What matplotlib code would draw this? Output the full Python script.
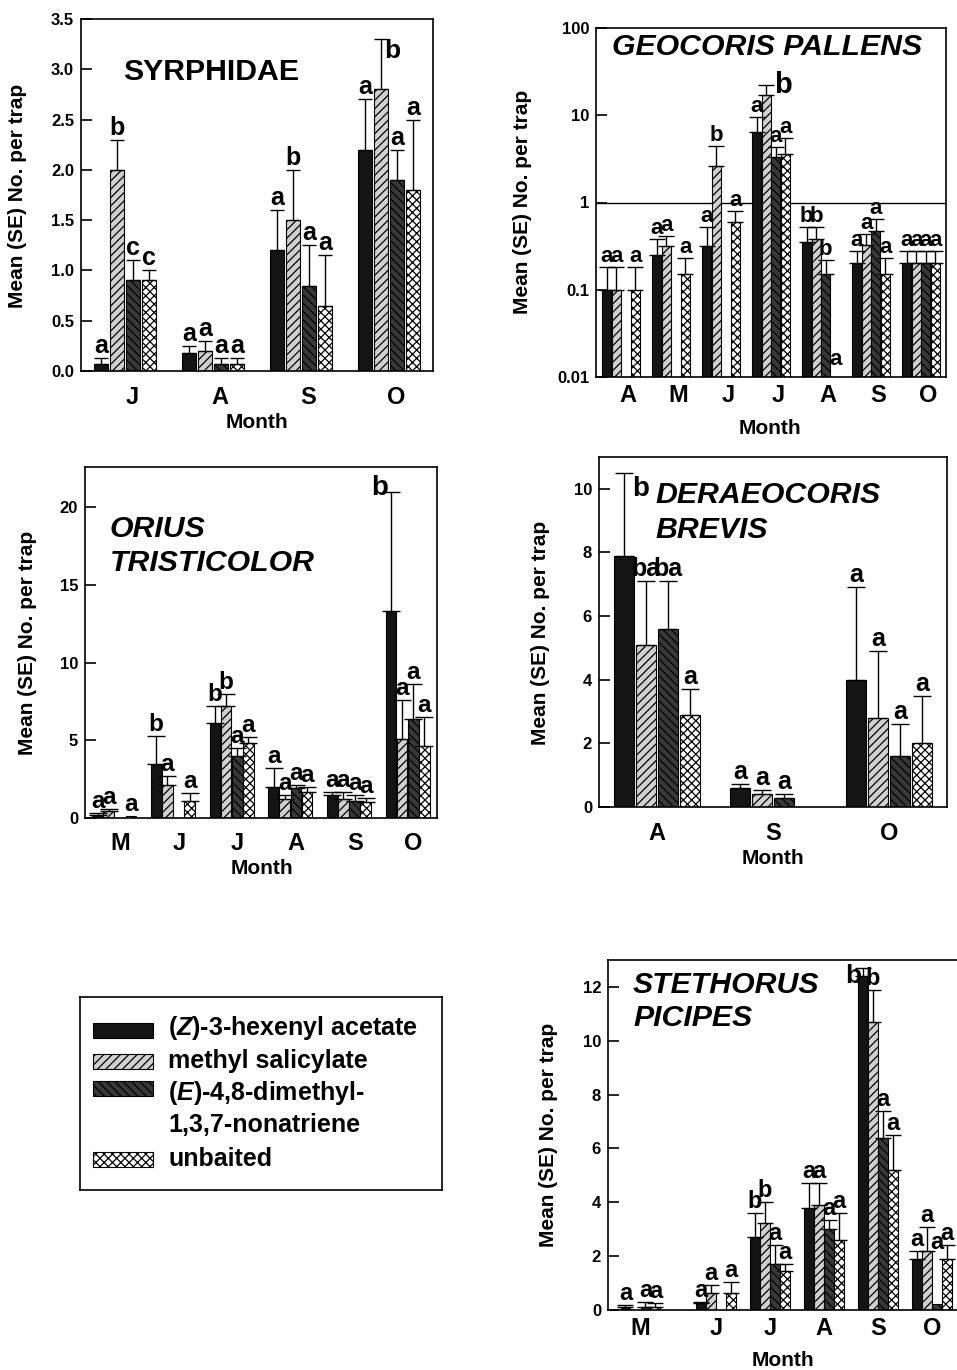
import numpy as np
import matplotlib.pyplot as plt
from matplotlib.patches import Rectangle
from matplotlib.ticker import NullLocator

plt.rcParams['font.family'] = 'Liberation Sans'
plt.rcParams['font.weight'] = 'bold'
plt.rcParams['mathtext.fontset'] = 'custom'
plt.rcParams['mathtext.rm'] = 'Liberation Sans:bold'
plt.rcParams['mathtext.it'] = 'Liberation Sans:italic:bold'
plt.rcParams['hatch.linewidth'] = 0.9
plt.rcParams['axes.linewidth'] = 1.2

W, H = 957, 1370

# --------- data (mean, SE) per treatment ---------
treatments = ["($\\mathit{Z}$)-3-hexenyl acetate", "methyl salicylate",
              "($\\mathit{E}$)-4,8-dimethyl-\n1,3,7-nonatriene", "unbaited"]

# Syrphidae
syr_months = ["J", "A", "S", "O"]
syr_zha = [0.07, 0.18, 1.2, 2.2]
syr_zha_se = [0.06, 0.07, 0.4, 0.5]
syr_mesa = [2.0, 0.2, 1.5, 2.8]
syr_mesa_se = [0.3, 0.1, 0.5, 0.5]
syr_dmnt = [0.9, 0.07, 0.85, 1.9]
syr_dmnt_se = [0.2, 0.06, 0.4, 0.3]
syr_unb = [0.9, 0.07, 0.65, 1.8]
syr_unb_se = [0.1, 0.06, 0.5, 0.7]
syr_letters = [["a", "b", "c", "c"], ["a", "a", "a", "a"],
               ["a", "b", "a", "a"], ["a", "b", "a", "a"]]

# Geocoris pallens (log scale)
geo_months = ["A", "M", "J", "J", "A", "S", "O"]
geo_zha = [0.1, 0.25, 0.32, 6.5, 0.35, 0.2, 0.2]
geo_zha_se = [0.08, 0.13, 0.2, 3.0, 0.17, 0.08, 0.08]
geo_mesa = [0.1, 0.32, 2.6, 17.0, 0.38, 0.33, 0.2]
geo_mesa_se = [0.08, 0.09, 1.8, 5.5, 0.14, 0.1, 0.08]
geo_dmnt = [0, 0, 0, 3.3, 0.15, 0.47, 0.2]
geo_dmnt_se = [0, 0, 0, 1.0, 0.07, 0.18, 0.08]
geo_unb = [0.1, 0.15, 0.6, 3.6, 0, 0.15, 0.2]
geo_unb_se = [0.08, 0.08, 0.2, 1.9, 0, 0.08, 0.08]
geo_letters = [["a", "a", "", "a"], ["a", "a", "", "a"], ["a", "b", "", "a"],
               ["a", "b", "a", "a"], ["b", "b", "b", "a"], ["a", "a", "a", "a"],
               ["a", "a", "a", "a"]]

# Orius tristicolor
ori_months = ["M", "J", "J", "A", "S", "O"]
ori_zha = [0.2, 3.5, 6.1, 2.0, 1.5, 13.3]
ori_zha_se = [0.1, 1.8, 1.1, 1.2, 0.2, 7.7]
ori_mesa = [0.45, 2.1, 7.2, 1.2, 1.2, 5.1]
ori_mesa_se = [0.15, 0.6, 0.8, 0.3, 0.5, 2.5]
ori_dmnt = [0, 0, 4.0, 1.9, 1.1, 6.4]
ori_dmnt_se = [0, 0, 0.5, 0.2, 0.4, 2.2]
ori_unb = [0.1, 1.1, 4.8, 1.65, 1.0, 4.65]
ori_unb_se = [0, 0.5, 0.4, 0.35, 0.3, 1.85]
ori_letters = [["a", "a", "", "a"], ["b", "a", "", "a"], ["b", "b", "a", "a"],
               ["a", "a", "a", "a"], ["a", "a", "a", "a"], ["b", "a", "a", "a"]]

# Deraeocoris brevis
der_months = ["A", "S", "O"]
der_zha = [7.9, 0.6, 4.0]
der_zha_se = [2.6, 0.13, 2.9]
der_mesa = [5.1, 0.4, 2.8]
der_mesa_se = [2.0, 0.14, 2.1]
der_dmnt = [5.6, 0.27, 1.6]
der_dmnt_se = [1.5, 0.13, 1.0]
der_unb = [2.9, 0, 2.0]
der_unb_se = [0.8, 0, 1.5]
der_letters = [["b", "ba", "ba", "a"], ["a", "a", "a", ""], ["a", "a", "a", "a"]]

# Stethorus picipes
ste_months = ["M", "J", "J", "A", "S", "O"]
ste_zha = [0.1, 0.27, 2.7, 3.8, 12.4, 1.9]
ste_zha_se = [0.1, 0.03, 0.9, 0.9, 0.3, 0.3]
ste_mesa = [0, 0.63, 3.25, 3.9, 10.7, 2.2]
ste_mesa_se = [0, 0.3, 0.75, 0.8, 1.2, 0.9]
ste_dmnt = [0.1, 0, 1.7, 3.0, 6.4, 0.22]
ste_dmnt_se = [0.2, 0, 0.7, 0.35, 1.0, 0]
ste_unb = [0.1, 0.65, 1.45, 2.6, 5.2, 1.9]
ste_unb_se = [0.15, 0.4, 0.25, 1.0, 1.3, 0.5]
ste_letters = [["a", "", "a", "a"], ["a", "a", "", "a"], ["b", "b", "a", "a"],
               ["a", "a", "a", "a"], ["b", "b", "a", "a"], ["a", "a", "a", "a"]]

# --------- styles ---------
styles = [
    dict(facecolor="#141414", hatch=None),
    dict(facecolor="#d0d0d0", hatch="////"),
    dict(facecolor="#383838", hatch="\\\\\\\\"),
    dict(facecolor="white", hatch="xxxx"),
]


def fig_rect(l, t, r, b):
    return [l / W, 1 - b / H, (r - l) / W, (b - t) / H]


def fpx(x, y):
    return x / W, 1 - y / H


fig = plt.figure(figsize=(W / 100, H / 100), dpi=100)


def draw_panel(rect, months, means, ses, letters, lay):
    ax = fig.add_axes(fig_rect(*rect))
    log = lay.get("log", False)
    if log:
        ax.set_yscale("log")
    pos = np.array(lay.get("pos", np.arange(len(months))), float)
    step, width = lay["step"], lay["width"]
    for k in range(4):
        x = pos + (k - 1.5) * step
        m = np.array(means[k], float)
        s = np.array(ses[k], float)
        ok = m > 0
        ax.bar(x[ok], m[ok], width, edgecolor="black", linewidth=0.8,
               zorder=2, **styles[k])
        e = ok & (s > 0)
        ax.errorbar(x[e], m[e], yerr=[np.zeros(e.sum()), s[e]], fmt="none",
                    ecolor="black", elinewidth=1.0, capsize=lay["capsize"],
                    capthick=1.0, zorder=3)
    ylim = lay["ylim"]
    special = lay.get("special", {})
    for g in range(len(months)):
        for k in range(4):
            lab = letters[g][k]
            if not lab:
                continue
            m, s = means[k][g], ses[k][g]
            x = pos[g] + (k - 1.5) * step
            if m > 0:
                y = m + s
            else:
                y = ylim[0] * 1.2 if log else 0
            dx, dy, ha, va, fs = 0, 0, "center", "bottom", lay["let_fs"]
            if (g, k) in special:
                dx, dy, ha, va, fs = special[(g, k)]
            ax.annotate(lab, (x, y), xytext=(dx, dy), textcoords="offset points",
                        ha=ha, va=va, fontsize=fs, fontweight="bold",
                        annotation_clip=False, zorder=4)
    if log:
        ax.axhline(1, color="black", lw=1.0, zorder=1)
    ax.set_xlim(*lay["xlim"])
    ax.set_ylim(*ylim)
    ax.set_yticks(lay["yticks"])
    ax.set_yticklabels(lay["yticklabels"])
    ax.yaxis.set_minor_locator(NullLocator())
    ax.set_xticks(pos + lay.get("shift", 0))
    ax.set_xticklabels(months)
    ax.tick_params(axis="y", direction="in", length=8, width=1.2,
                   labelsize=12, pad=5)
    ax.tick_params(axis="x", length=0, labelsize=17, pad=lay["xpad"])
    ax.set_ylabel("Mean (SE) No. per trap", fontsize=15, fontweight="bold")
    ax.yaxis.set_label_coords(*fpx(*lay["ylabel_xy"]), transform=fig.transFigure)
    ax.yaxis.label.set_va("center")
    ax.set_xlabel("Month", fontsize=15, fontweight="bold")
    ax.xaxis.set_label_coords(*fpx(*lay["xlabel_xy"]), transform=fig.transFigure)
    ax.xaxis.label.set_va("center")
    style = lay.get("tstyle", "italic")
    for line, (tx, ty) in zip(lay["title"], lay["title_xy"]):
        ax.text(*fpx(tx, ty), line, transform=fig.transFigure, ha="left",
                va="center", fontsize=21.8, fontweight="bold", style=style)
    return ax


# --- Syrphidae ---
draw_panel((81, 19, 433, 371), syr_months,
           [syr_zha, syr_mesa, syr_dmnt, syr_unb],
           [syr_zha_se, syr_mesa_se, syr_dmnt_se, syr_unb_se], syr_letters,
           dict(xlim=(-0.5, 3.5), step=0.182, width=0.16, capsize=4.8, let_fs=18,
                ylim=(0, 3.5), yticks=np.arange(0, 3.51, 0.5),
                yticklabels=[f"{v:.1f}" for v in np.arange(0, 3.51, 0.5)],
                xpad=11, shift=0.08, ylabel_xy=(18, 196), xlabel_xy=(257, 422),
                title=["SYRPHIDAE"], title_xy=[(123, 72)], tstyle="normal",
                special={(3, 1): (2, 0, "left", "top", 19)}))

# --- Geocoris pallens ---
draw_panel((596, 28, 946, 377), geo_months,
           [geo_zha, geo_mesa, geo_dmnt, geo_unb],
           [geo_zha_se, geo_mesa_se, geo_dmnt_se, geo_unb_se], geo_letters,
           dict(log=True, xlim=(-0.5, 6.5), step=0.19, width=0.18, capsize=6,
                let_fs=16, ylim=(0.01, 100), yticks=[0.01, 0.1, 1, 10, 100],
                yticklabels=["0.01", "0.1", "1", "10", "100"],
                xpad=5, shift=0.14, ylabel_xy=(522, 202), xlabel_xy=(770, 428),
                title=["GEOCORIS PALLENS"], title_xy=[(612, 47)],
                special={(3, 1): (6, 0, "left", "center", 21)}))

# --- Orius tristicolor ---
draw_panel((85, 467, 437, 818), ori_months,
           [ori_zha, ori_mesa, ori_dmnt, ori_unb],
           [ori_zha_se, ori_mesa_se, ori_dmnt_se, ori_unb_se], ori_letters,
           dict(xlim=(-0.5, 5.5), step=0.19, width=0.18, capsize=6.5, let_fs=17.5,
                ylim=(0, 22.6), yticks=[0, 5, 10, 15, 20],
                yticklabels=["0", "5", "10", "15", "20"],
                xpad=10, shift=0.1, ylabel_xy=(28, 643), xlabel_xy=(262, 869),
                title=["ORIUS", "TRISTICOLOR"], title_xy=[(110, 529), (110, 563)],
                special={(5, 0): (-2, 3, "right", "center", 20)}))

# --- Deraeocoris brevis ---
draw_panel((599, 457, 947, 807), der_months,
           [der_zha, der_mesa, der_dmnt, der_unb],
           [der_zha_se, der_mesa_se, der_dmnt_se, der_unb_se], der_letters,
           dict(xlim=(-0.5, 2.5), step=0.19, width=0.165, capsize=6.5, let_fs=18,
                ylim=(0, 11), yticks=[0, 2, 4, 6, 8, 10],
                yticklabels=["0", "2", "4", "6", "8", "10"],
                xpad=11, ylabel_xy=(540, 633), xlabel_xy=(773, 858),
                title=["DERAEOCORIS", "BREVIS"], title_xy=[(655, 495), (655, 530)],
                special={(0, 0): (6, -2, "left", "top", 20)}))

# --- Stethorus picipes ---
draw_panel((608, 960, 986, 1310), ste_months,
           [ste_zha, ste_mesa, ste_dmnt, ste_unb],
           [ste_zha_se, ste_mesa_se, ste_dmnt_se, ste_unb_se], ste_letters,
           dict(pos=[0.1, 1.5, 2.5, 3.5, 4.5, 5.5], xlim=(-0.5, 6.5), step=0.185,
                width=0.18, capsize=5.5, let_fs=17, ylim=(0, 13),
                yticks=[0, 2, 4, 6, 8, 10, 12],
                yticklabels=["0", "2", "4", "6", "8", "10", "12"],
                xpad=5, ylabel_xy=(549, 1135), xlabel_xy=(783, 1360),
                title=["STETHORUS", "PICIPES"], title_xy=[(633, 985), (633, 1018)],
                special={(4, 0): (-1, 3, "right", "top", 19),
                         (5, 2): (0, 36, "center", "bottom", 17)}))

# --- legend box ---
lax = fig.add_axes(fig_rect(80, 997, 442, 1190))
lax.set_xlim(0, 362)
lax.set_ylim(193, 0)
lax.set_xticks([])
lax.set_yticks([])
for sp in lax.spines.values():
    sp.set_linewidth(1.2)
rect_y = [33, 64, 91, 162]
text_y = [31, 64, 111, 162]
for k in range(4):
    lax.add_patch(Rectangle((13, rect_y[k] - 7.5), 60, 15, edgecolor="black",
                            linewidth=0.8, **styles[k]))
    lax.text(88, text_y[k], treatments[k], ha="left", va="center",
             fontsize=18, fontweight="bold", linespacing=1.35)

fig.savefig("out.png", dpi=100)
